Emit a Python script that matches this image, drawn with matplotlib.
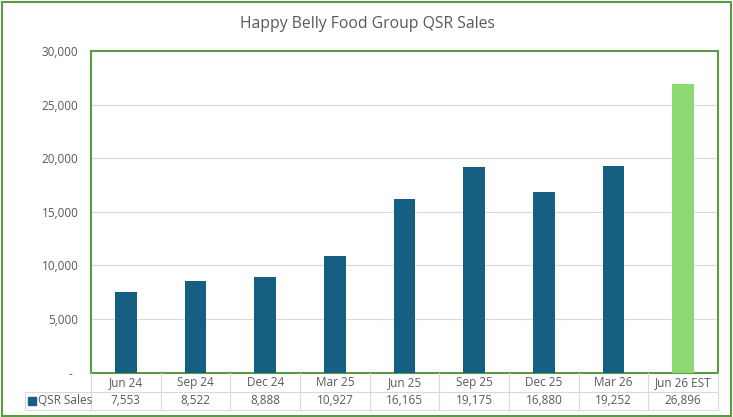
import matplotlib.pyplot as plt
from matplotlib.patches import Rectangle

periods = ['Jun 24', 'Sep 24', 'Dec 24', 'Mar 25', 'Jun 25', 'Sep 25', 'Dec 25', 'Mar 26', 'Jun 26 EST']
sales = [7553, 8522, 8888, 10927, 16165, 19175, 16880, 19252, 26896]
series_name = 'QSR Sales'
yticks = [0, 5000, 10000, 15000, 20000, 25000, 30000]

plt.rcParams['font.family'] = ['Open Sans', 'DejaVu Sans']
txt = '#595959'
border = '#5B9A45'
blue = '#156082'
green = '#8ED973'
gridc = '#D9D9D9'

W, H = 733, 417
fig = plt.figure(figsize=(W / 100, H / 100), dpi=100)

# outer chart border
fig.add_artist(Rectangle((2 / W, 1.5 / H), (W - 4) / W, (H - 3.5) / H, transform=fig.transFigure,
                         fill=False, edgecolor=border, linewidth=1.5))

left, right, top, bottom = 91, 718, 51, 372.7
ax = fig.add_axes([left / W, 1 - bottom / H, (right - left) / W, (bottom - top) / H])

x = list(range(len(periods)))
colors = [blue] * (len(sales) - 1) + [green]
ax.bar(x, sales, width=0.31, color=colors, zorder=3)
ax.set_xlim(-0.5, len(periods) - 0.5)
ax.set_ylim(0, 30000)
ax.set_yticks(yticks)
ax.set_yticklabels(['-  '] + [f'{v:,}' for v in yticks[1:]], color=txt, fontsize=8.5)
ax.tick_params(axis='y', length=0, pad=9)
ax.set_xticks([])
ax.yaxis.grid(True, color=gridc, linewidth=0.8, zorder=0)
for s in ax.spines.values():
    s.set_color(border)
    s.set_linewidth(1.5)

fig.text(0.502, 1 - 24 / H, 'Happy Belly Food Group QSR Sales', ha='center', va='center',
         fontsize=11.3, color=txt)

# data table below the plot
cw = (right - left) / len(periods)
r1, r2, r3 = bottom, 391.5, 410
tl = fig.transFigure
def fx(px):
    return px / W
def fy(py):
    return 1 - py / H

lw = 0.8
# horizontal lines
fig.add_artist(plt.Line2D([fx(25), fx(right)], [fy(r2), fy(r2)], transform=tl, color=gridc, lw=lw))
fig.add_artist(plt.Line2D([fx(25), fx(right)], [fy(r3), fy(r3)], transform=tl, color=gridc, lw=lw))
# vertical lines
fig.add_artist(plt.Line2D([fx(25), fx(25)], [fy(r2), fy(r3)], transform=tl, color=gridc, lw=lw))
for i in range(len(periods) + 1):
    xp = left + i * cw
    fig.add_artist(plt.Line2D([fx(xp), fx(xp)], [fy(r1), fy(r3)], transform=tl, color=gridc, lw=lw))

for i, (p, v) in enumerate(zip(periods, sales)):
    cx = left + (i + 0.5) * cw
    fig.text(fx(cx), fy((r1 + r2) / 2), p, ha='center', va='center', fontsize=8.5, color=txt)
    fig.text(fx(cx), fy((r2 + r3) / 2), f'{v:,}', ha='center', va='center', fontsize=8.5, color=txt)

fig.add_artist(Rectangle((fx(28), fy(405)), 8 / W, 8 / H, transform=tl, color=blue))
fig.text(fx(38), fy((r2 + r3) / 2), series_name, ha='left', va='center', fontsize=8.5, color=txt)

fig.savefig('out.png', dpi=100)
